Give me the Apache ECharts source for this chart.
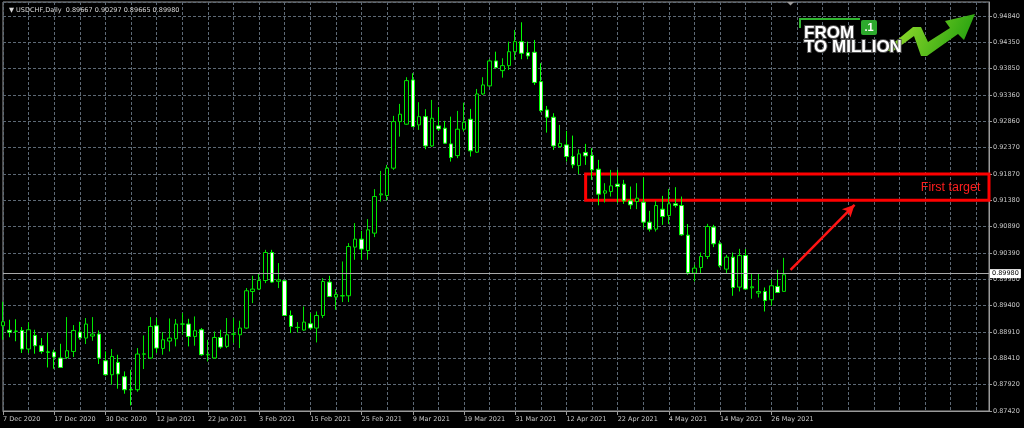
<!DOCTYPE html>
<html><head><meta charset="utf-8">
<script src="https://cdn.jsdelivr.net/npm/echarts@6/dist/echarts.min.js"></script>
<style>html,body{margin:0;padding:0;background:#000;}#c{width:1024px;height:428px;}</style>
</head><body><div id="c"></div>
<script>
const symbolName = 'USDCHF,Daily';
const dates = [
'7 Dec 2020','8 Dec 2020','9 Dec 2020','10 Dec 2020','11 Dec 2020','14 Dec 2020','15 Dec 2020','16 Dec 2020','17 Dec 2020','18 Dec 2020',
'21 Dec 2020','22 Dec 2020','23 Dec 2020','24 Dec 2020','28 Dec 2020','29 Dec 2020','30 Dec 2020','31 Dec 2020',
'4 Jan 2021','5 Jan 2021','6 Jan 2021','7 Jan 2021','8 Jan 2021','11 Jan 2021','12 Jan 2021','13 Jan 2021','14 Jan 2021','15 Jan 2021',
'18 Jan 2021','19 Jan 2021','20 Jan 2021','21 Jan 2021','22 Jan 2021','25 Jan 2021','26 Jan 2021','27 Jan 2021','28 Jan 2021','29 Jan 2021',
'1 Feb 2021','2 Feb 2021','3 Feb 2021','4 Feb 2021','5 Feb 2021','8 Feb 2021','9 Feb 2021','10 Feb 2021','11 Feb 2021','12 Feb 2021',
'15 Feb 2021','16 Feb 2021','17 Feb 2021','18 Feb 2021','19 Feb 2021','22 Feb 2021','23 Feb 2021','24 Feb 2021','25 Feb 2021','26 Feb 2021',
'1 Mar 2021','2 Mar 2021','3 Mar 2021','4 Mar 2021','5 Mar 2021','8 Mar 2021','9 Mar 2021','10 Mar 2021','11 Mar 2021','12 Mar 2021',
'15 Mar 2021','16 Mar 2021','17 Mar 2021','18 Mar 2021','19 Mar 2021','22 Mar 2021','23 Mar 2021','24 Mar 2021','25 Mar 2021','26 Mar 2021',
'29 Mar 2021','30 Mar 2021','31 Mar 2021',
'1 Apr 2021','2 Apr 2021','5 Apr 2021','6 Apr 2021','7 Apr 2021','8 Apr 2021','9 Apr 2021','12 Apr 2021','13 Apr 2021','14 Apr 2021',
'15 Apr 2021','16 Apr 2021','19 Apr 2021','20 Apr 2021','21 Apr 2021','22 Apr 2021','23 Apr 2021','26 Apr 2021','27 Apr 2021','28 Apr 2021',
'29 Apr 2021','30 Apr 2021',
'3 May 2021','4 May 2021','5 May 2021','6 May 2021','7 May 2021','10 May 2021','11 May 2021','12 May 2021','13 May 2021','14 May 2021',
'17 May 2021','18 May 2021','19 May 2021','20 May 2021','21 May 2021','24 May 2021','25 May 2021','26 May 2021','27 May 2021','28 May 2021'
];
const opens = [
0.89021,0.88937,0.88920,0.88933,0.88584,0.88839,0.88646,0.88529,0.88527,0.88415,
0.88426,0.88539,0.88903,0.88790,0.88828,0.88865,0.88364,0.88101,0.88332,0.88064,
0.87822,0.87820,0.88488,0.88415,0.89021,0.88595,0.88734,0.88777,0.89051,0.89053,
0.88820,0.88946,0.88475,0.88415,0.88801,0.88633,0.88863,0.88852,0.88978,0.89665,
0.89710,0.89871,0.90397,0.89856,0.89866,0.89214,0.88987,0.88940,0.89059,0.88978,
0.89214,0.89841,0.89560,0.89582,0.89584,0.90498,0.90648,0.90434,0.90761,0.91480,
0.91467,0.91981,0.92856,0.92807,0.93638,0.92794,0.92949,0.92399,0.92775,0.92732,
0.92437,0.92217,0.92713,0.92900,0.92281,0.93375,0.93526,0.93995,0.93813,0.93907,
0.94169,0.94357,0.94151,0.94158,0.93606,0.93075,0.92938,0.92386,0.92418,0.92199,
0.92030,0.92277,0.92217,0.91962,0.91512,0.91542,0.91681,0.91681,0.91367,0.91354,
0.91343,0.90967,0.90836,0.91211,0.91091,0.91311,0.91279,0.90723,0.90010,0.90115,
0.90322,0.90874,0.90560,0.90085,0.90310,0.89747,0.90340,0.89734,0.89635,0.89665,
0.89509,0.89759,0.89667
];
const highs = [
0.89472,0.89134,0.89143,0.88997,0.89083,0.88946,0.88790,0.88895,0.88571,0.88683,
0.89184,0.89034,0.89096,0.89166,0.89184,0.88933,0.88539,0.88584,0.88477,0.88163,
0.88195,0.88602,0.88839,0.89184,0.89166,0.88903,0.89158,0.89147,0.89259,0.89152,
0.89196,0.88978,0.88758,0.88914,0.88946,0.89166,0.89166,0.89115,0.89729,0.89960,
0.90010,0.90447,0.90447,0.90198,0.89884,0.89308,0.89090,0.89383,0.89259,0.89289,
0.89916,0.89960,0.89710,0.90228,0.90573,0.90949,0.90804,0.91024,0.91587,0.91930,
0.92043,0.92963,0.93188,0.93689,0.93764,0.93220,0.93088,0.93263,0.93126,0.92869,
0.92949,0.93056,0.93212,0.93094,0.93469,0.93689,0.94027,0.94169,0.94045,0.94357,
0.94577,0.94721,0.94357,0.94389,0.93952,0.93150,0.93013,0.92794,0.92681,0.92593,
0.92337,0.92437,0.92356,0.92137,0.91699,0.91949,0.91949,0.91761,0.91636,0.91699,
0.91805,0.91179,0.91367,0.91461,0.91592,0.91624,0.91448,0.90930,0.90166,0.90397,
0.90935,0.90917,0.90622,0.90354,0.90397,0.90466,0.90461,0.89997,0.90010,0.89740,
0.89898,0.90072,0.90297
];
const lows = [
0.88758,0.88805,0.88730,0.88509,0.88509,0.88496,0.88496,0.88238,0.88214,0.88233,
0.88396,0.88434,0.88758,0.88678,0.88740,0.88302,0.88083,0.87914,0.87839,0.87745,
0.87525,0.87782,0.88208,0.88402,0.88509,0.88477,0.88539,0.88633,0.88852,0.88633,
0.88646,0.88458,0.88351,0.88402,0.88589,0.88602,0.88696,0.88602,0.88965,0.89447,
0.89697,0.89822,0.89828,0.89729,0.89209,0.88884,0.88895,0.88927,0.88946,0.88708,
0.89166,0.89565,0.89321,0.89466,0.89466,0.90260,0.90260,0.90260,0.90686,0.91354,
0.91373,0.91949,0.92574,0.92794,0.92756,0.92700,0.92337,0.92381,0.92681,0.92437,
0.92105,0.92169,0.92668,0.92199,0.92268,0.93357,0.93507,0.93858,0.93681,0.93826,
0.94014,0.94027,0.94027,0.93544,0.93028,0.92649,0.92324,0.92362,0.92105,0.91981,
0.91868,0.92043,0.91761,0.91283,0.91335,0.91448,0.91330,0.91311,0.91211,0.91211,
0.90866,0.90791,0.90791,0.90917,0.90930,0.91241,0.90710,0.89978,0.89853,0.89997,
0.90273,0.90498,0.90115,0.89997,0.89584,0.89665,0.89697,0.89528,0.89552,0.89289,
0.89396,0.89640,0.89665
];
const closes = [
0.89096,0.88899,0.88916,0.88584,0.88946,0.88646,0.88539,0.88525,0.88434,0.88238,
0.88552,0.88933,0.88796,0.89053,0.88865,0.88415,0.88101,0.88445,0.88115,0.87820,
0.87818,0.88490,0.88492,0.89008,0.88602,0.88758,0.88790,0.89053,0.89055,0.88820,
0.88927,0.88477,0.88479,0.88801,0.88621,0.88852,0.88867,0.88978,0.89678,0.89710,
0.89871,0.90397,0.89841,0.89884,0.89214,0.89008,0.88991,0.89090,0.88978,0.89214,
0.89853,0.89571,0.89608,0.89586,0.90509,0.90648,0.90461,0.90823,0.91448,0.91498,
0.91981,0.92856,0.92994,0.93625,0.92762,0.92949,0.92399,0.92919,0.92718,0.92450,
0.92180,0.92713,0.92844,0.92306,0.93375,0.93544,0.93995,0.93869,0.93907,0.94169,
0.94357,0.94139,0.94089,0.93591,0.93062,0.92938,0.92399,0.92446,0.92199,0.92043,
0.92249,0.92212,0.91949,0.91493,0.91555,0.91649,0.91636,0.91367,0.91292,0.91418,
0.90967,0.90836,0.91279,0.91072,0.91311,0.91279,0.90729,0.90021,0.90104,0.90322,
0.90885,0.90560,0.90147,0.90310,0.89740,0.90340,0.89710,0.89753,0.89665,0.89496,
0.89772,0.89646,0.89980
];
const yTickLabels = ['0.87420','0.87920','0.88410','0.88910','0.89400','0.89900','0.90390','0.90890',
  '0.91380','0.91870','0.92370','0.92860','0.93360','0.93850','0.94350','0.94840'];
const yMin = 0.87420, yStep = 0.004946, yMax = 0.95102;
const emptySlots = 32;
const targetZone = { top: 0.91870, bottom: 0.91380, from: 90.5, to: 153.5, text: 'First target' };
const arrowFrom = [123, 0.90072];
const arrowTo = [133, 0.91292];

const cats = dates.concat(Array.from({length: emptySlots}, (_, i) => '_' + i));
const ohlc = dates.map((d, i) => [opens[i], closes[i], lows[i], highs[i]]);
const last = dates.length - 1;
const showLabel = (i) => i % 8 === 0 && i < dates.length;
const font = 'DejaVu Sans';
const txt = '#c8c8c8';
const gridCol = '#5d6975';
const frame = '#9a9a9a';

const chart = echarts.init(document.getElementById('c'), null, {renderer: 'canvas'});
chart.setOption({
  backgroundColor: '#000000',
  animation: false,
  title: {
    text: '\u25BC ' + symbolName + '  ' + [opens[last], highs[last], lows[last], closes[last]].map(v => v.toFixed(5)).join(' '),
    left: 4, top: 2,
    textStyle: {color: '#d8d8d8', fontSize: 6.5, fontWeight: 'normal', fontFamily: font}
  },
  grid: {left: 2, right: 35, top: 2, bottom: 17, show: true, borderColor: frame, borderWidth: 1, backgroundColor: 'transparent'},
  xAxis: {
    type: 'category', data: cats, boundaryGap: false,
    axisLine: {show: true, lineStyle: {color: frame}},
    axisTick: {show: true, interval: showLabel, length: 4, lineStyle: {color: frame}},
    axisLabel: {interval: showLabel, align: 'left', margin: 5, color: txt, fontSize: 6.5, fontFamily: font,
      formatter: (v) => v.charAt(0) === '_' ? '' : v},
    splitLine: {show: true, interval: 3, lineStyle: {color: gridCol, type: [3, 2], width: 1}}
  },
  yAxis: {
    type: 'value', position: 'right', min: yMin, max: yMax, interval: yStep,
    axisLine: {show: true, lineStyle: {color: frame}},
    axisTick: {show: true, length: 3, lineStyle: {color: frame}},
    axisLabel: {margin: 4, color: txt, fontSize: 6.5, fontFamily: font, showMaxLabel: false,
      formatter: (v) => {
        const k = Math.round((v - yMin) / yStep);
        return Math.abs(yMin + k * yStep - v) < yStep * 0.1 ? (yTickLabels[k] || '') : '';
      }},
    splitLine: {show: true, lineStyle: {color: gridCol, type: [3, 2], width: 1}}
  },
  series: [{
    type: 'candlestick',
    data: ohlc,
    barWidth: 4,
    itemStyle: {color: '#000000', color0: '#ffffff', borderColor: '#00e600', borderColor0: '#00ff00', borderWidth: 1},
    markLine: {
      silent: true, animation: false, symbol: ['none', 'none'],
      data: [
        {yAxis: closes[last], lineStyle: {color: '#a9a9a9', width: 1, type: 'solid'},
         label: {show: true, position: 'end', formatter: closes[last].toFixed(5), backgroundColor: '#ffffff',
                 color: '#000000', padding: [1, 2, 1, 2], fontSize: 6.5, fontFamily: font, distance: 1}},
        [
          {coord: arrowFrom, symbol: 'none', lineStyle: {color: '#ff1414', width: 2.5, type: 'solid'}, label: {show: false}},
          {coord: arrowTo, symbol: 'arrow', symbolSize: [9, 12]}
        ]
      ]
    },
    markArea: {
      silent: true,
      data: [[
        {xAxis: targetZone.from, yAxis: targetZone.top,
         itemStyle: {color: 'rgba(0,0,0,0)', borderColor: '#ff0000', borderWidth: 3},
         label: {show: true, position: 'insideRight', formatter: targetZone.text, color: '#ff1e1e',
                 fontSize: 12.5, fontFamily: 'Liberation Sans', distance: 10}},
        {xAxis: targetZone.to, yAxis: targetZone.bottom}
      ]]
    }
  }],
  graphic: [
    {type: 'polygon', z: 100, shape: {points: [[787, 2], [794, 2], [790.5, 5.5]]}, style: {fill: '#9a9a9a'}},
    {type: 'polyline', z: 100, shape: {points: [[800, 28], [800, 19], [860, 19]]}, style: {stroke: '#2fb52f', lineWidth: 2, fill: null}},
    {type: 'text', z: 101, x: 804, y: 25, style: {text: 'FROM', fill: '#ffffff', stroke: '#505050', lineWidth: 2, strokeFirst: true,
      font: 'bold 17px "Liberation Sans"', align: 'left', verticalAlign: 'top'}},
    {type: 'rect', z: 100, shape: {x: 861, y: 20, width: 16, height: 15, r: 2}, style: {fill: '#2daa2d'}},
    {type: 'text', z: 101, x: 869, y: 27.5, style: {text: '.1', fill: '#ffffff', font: 'bold 11px "Liberation Sans"', align: 'center', verticalAlign: 'middle'}},
    {type: 'text', z: 101, x: 804, y: 39, style: {text: 'TO MILLION', fill: '#ffffff', stroke: '#505050', lineWidth: 2, strokeFirst: true,
      font: 'bold 17px "Liberation Sans"', align: 'left', verticalAlign: 'top'}},
    {type: 'polygon', z: 100, shape: {points: [[885, 50], [913, 27], [921, 27], [928, 42], [950, 28], [945, 21], [975, 14], [964, 40], [958, 34], [927, 56], [921, 56], [914, 36], [892, 52]]},
     style: {fill: {type: 'linear', x: 0, y: 0, x2: 1, y2: 1, colorStops: [{offset: 0, color: '#a8e631'}, {offset: 1, color: '#179a0c'}]}}}
  ]
});
</script></body></html>
